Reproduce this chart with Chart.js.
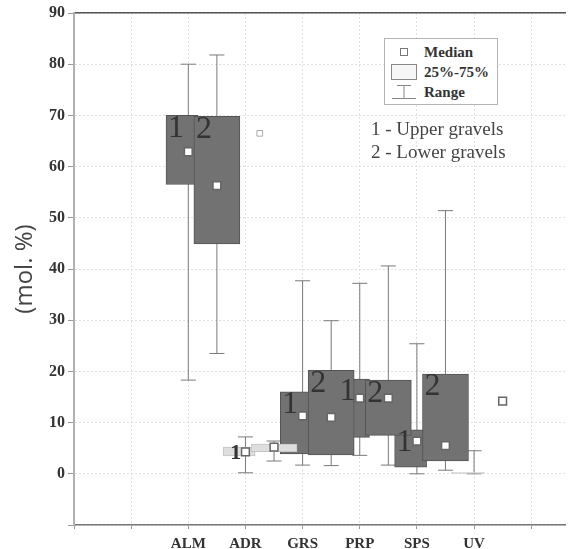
<!DOCTYPE html>
<html>
<head>
<meta charset="utf-8">
<script src="https://cdn.jsdelivr.net/npm/chart.js@4.4.1/dist/chart.umd.min.js"></script>
<style>
  html, body { margin: 0; padding: 0; background: #fff; }
  #wrap { position: relative; width: 574px; height: 549px; }
  #legend {
    position: absolute; left: 384px; top: 38px; width: 114px; height: 67px;
    border: 1px solid #b4b4b4; background: #fff; box-sizing: border-box;
    font: bold 15px "Liberation Serif", serif; color: #333; padding-top: 3px;
  }
  #legend .row { display: flex; align-items: center; height: 20px; }
  #legend svg { margin-left: 6px; margin-right: 7px; }
  #notes {
    position: absolute; left: 371px; top: 117px;
    font: 19px "Liberation Serif", serif; color: #444; line-height: 23px;
  }
</style>
</head>
<body>
<div id="wrap">
  <canvas id="chart" width="574" height="549"></canvas>
  <div id="legend">
    <div class="row"><svg width="26" height="18"><rect x="9.5" y="5.5" width="7" height="7" fill="#fff" stroke="#777"/></svg><span>Median</span></div>
    <div class="row"><svg width="26" height="18"><rect x="0.5" y="1.5" width="25" height="15" fill="#f6f6f6" stroke="#888"/></svg><span>25%-75%</span></div>
    <div class="row"><svg width="26" height="18"><line x1="6" y1="2.5" x2="20" y2="2.5" stroke="#888"/><line x1="13" y1="2.5" x2="13" y2="15.5" stroke="#888"/><line x1="1" y1="15.5" x2="25" y2="15.5" stroke="#888"/></svg><span>Range</span></div>
  </div>
  <div id="notes">1 - Upper gravels<br>2 - Lower gravels</div>
</div>
<script>
const categories = ['ALM', 'ADR', 'GRS', 'PRP', 'SPS', 'UV'];

// 1 - upper gravels
const upperMin    = [18.3, 0.2, 1.7, 3.6, 0.0, 0.0];
const upperQ1     = [56.5, 3.5, 3.9, 7.1, 1.3, 0.0];
const upperMedian = [62.9, 4.3, 11.3, 14.8, 6.4, null];
const upperQ3     = [70.0, 5.2, 16.0, 18.5, 8.6, 0.3];
const upperMax    = [80.0, 7.2, 37.7, 37.2, 25.4, 4.5];

// 2 - lower gravels
const lowerMin    = [23.5, 2.5, 1.6, 1.7, 0.7, null];
const lowerQ1     = [44.9, 4.3, 3.7, 7.5, 2.5, null];
const lowerMedian = [56.3, 5.2, 11.0, 14.8, 5.5, 14.2];
const lowerQ3     = [69.8, 5.8, 20.2, 18.3, 19.5, null];
const lowerMax    = [81.8, 6.4, 29.9, 40.6, 51.4, null];
const lowerOutliers = [null, 66.5, null, null, null, null];

const upperLabels = ['1', '1', '1', '1', '1', ''];
const lowerLabels = ['2', '', '2', '2', '2', ''];
const lightBoxes = ['ADR', 'UV'];

// layout: offsets from the category gridline (x units)
const firstPos = 2;
const upperBoxOff = -0.11, upperWhiskOff = 0;
const lowerBoxOff = 0.5, lowerWhiskOff = 0.5, outlierOff = 0.25;

function boxData(q1, q3, off) {
  const out = [];
  categories.forEach((c, i) => {
    if (q1[i] == null) return;
    out.push({ x: firstPos + i + off, y: [q1[i], q3[i]], i: i });
  });
  return out;
}

function whiskerData(mins, maxs, off) {
  const out = [];
  categories.forEach((c, i) => {
    if (mins[i] == null) return;
    const xx = firstPos + i + off;
    out.push({ x: xx, y: mins[i] }, { x: xx, y: maxs[i] }, { x: xx, y: null });
  });
  return out;
}

function pointData(vals, off) {
  const out = [];
  vals.forEach((v, i) => {
    if (v == null) return;
    out.push({ x: firstPos + i + off, y: v });
  });
  return out;
}

const isLight = (ctx) => ctx.raw && lightBoxes.includes(categories[ctx.raw.i]);
const boxFill = (ctx) => (isLight(ctx) ? '#dedede' : '#727272');
const boxBorder = (ctx) => (isLight(ctx) ? '#c4c4c4' : '#545454');

// draws the "1" / "2" marks inside the boxes
const boxLabels = {
  id: 'boxLabels',
  afterDatasetsDraw(chart) {
    const ctx = chart.ctx;
    ctx.save();
    ctx.fillStyle = '#333';
    chart.data.datasets.forEach((ds, di) => {
      if (!ds.boxLabels) return;
      const meta = chart.getDatasetMeta(di);
      meta.data.forEach((bar, j) => {
        const txt = ds.boxLabels[ds.data[j].i];
        if (!txt) return;
        const p = bar.getProps(['x', 'y', 'base', 'width'], true);
        const left = p.x - p.width / 2;
        const top = Math.min(p.y, p.base), bottom = Math.max(p.y, p.base);
        ctx.textAlign = 'left';
        if (bottom - top > 25) {
          ctx.font = '32px "Liberation Serif", serif';
          ctx.textBaseline = 'top';
          ctx.fillText(txt, left + 2, top - 3);
        } else {
          ctx.font = 'bold 22px "Liberation Serif", serif';
          ctx.textBaseline = 'middle';
          ctx.fillText(txt, left + 7, (top + bottom) / 2 + 2);
        }
      });
    });
    ctx.restore();
  }
};

const whiskStyle = {
  type: 'line', showLine: true, spanGaps: false,
  borderColor: '#7a7a7a', borderWidth: 1,
  pointStyle: 'line', pointRadius: 7.5, pointBorderColor: '#7a7a7a', pointBorderWidth: 1,
  order: 10
};

new Chart(document.getElementById('chart'), {
  type: 'bar',
  data: {
    datasets: [
      Object.assign({ data: whiskerData(upperMin, upperMax, upperWhiskOff) }, whiskStyle),
      Object.assign({ data: whiskerData(lowerMin, lowerMax, lowerWhiskOff) }, whiskStyle),
      {
        type: 'bar', data: boxData(upperQ1, upperQ3, upperBoxOff), grouped: false,
        barThickness: 32, backgroundColor: boxFill, borderColor: boxBorder,
        borderWidth: 1, borderSkipped: false, boxLabels: upperLabels, order: 6
      },
      {
        type: 'bar', data: boxData(lowerQ1, lowerQ3, lowerBoxOff), grouped: false,
        barThickness: 46, backgroundColor: boxFill, borderColor: boxBorder,
        borderWidth: 1, borderSkipped: false, boxLabels: lowerLabels, order: 5
      },
      {
        type: 'line', showLine: false,
        data: pointData(upperMedian, upperWhiskOff).concat(pointData(lowerMedian, lowerWhiskOff)),
        pointStyle: 'rect', pointRadius: 5.5, pointBackgroundColor: '#fff',
        pointBorderColor: '#666', pointBorderWidth: 1.5, order: 1
      },
      {
        type: 'line', showLine: false, data: pointData(lowerOutliers, outlierOff),
        pointStyle: 'rect', pointRadius: 4, pointBackgroundColor: '#fff',
        pointBorderColor: '#aaa', pointBorderWidth: 1, order: 1
      }
    ]
  },
  options: {
    responsive: false,
    animation: false,
    layout: { padding: { top: 13, right: 0, bottom: 0, left: 0 } },
    plugins: { legend: { display: false }, tooltip: { enabled: false } },
    scales: {
      x: {
        type: 'linear', min: 0, max: 8.6, offset: false,
        afterFit: (s) => { s.height = 24; },
        ticks: {
          stepSize: 1, autoSkip: false, maxRotation: 0, includeBounds: false, padding: 6,
          color: '#333', font: { family: '"Liberation Serif", serif', size: 15, weight: 'bold' },
          callback: (v) => {
            const i = Math.round(v) - firstPos;
            return Math.abs(v - Math.round(v)) < 1e-6 && categories[i] ? categories[i] : '';
          }
        },
        grid: { offset: false, color: '#e0e0e0', tickLength: 4, tickColor: '#999', tickBorderDash: [] },
        border: { color: '#777', width: 1.5, dash: [2, 2] }
      },
      x2: {
        type: 'linear', position: 'top', display: true,
        afterFit: (s) => { s.height = 0; },
        ticks: { display: false }, grid: { display: false },
        border: { color: '#555', width: 1.5 }
      },
      y: {
        type: 'linear', min: -10, max: 90,
        afterFit: (s) => { s.width = 74; },
        ticks: {
          stepSize: 10, padding: 3, color: '#333',
          font: { family: '"Liberation Serif", serif', size: 16, weight: 'bold' },
          callback: (v) => (v < 0 ? '' : v)
        },
        grid: { color: '#e0e0e0', tickLength: 6, tickColor: '#999', tickBorderDash: [] },
        border: { color: '#b0b0b0', width: 2, dash: [2, 2] },
        title: {
          display: true, text: '(mol. %)', color: '#444',
          font: { family: '"Open Sans", sans-serif', size: 24 },
          padding: { top: 11, bottom: 0 }
        }
      }
    }
  },
  plugins: [boxLabels]
});
</script>
</body>
</html>
